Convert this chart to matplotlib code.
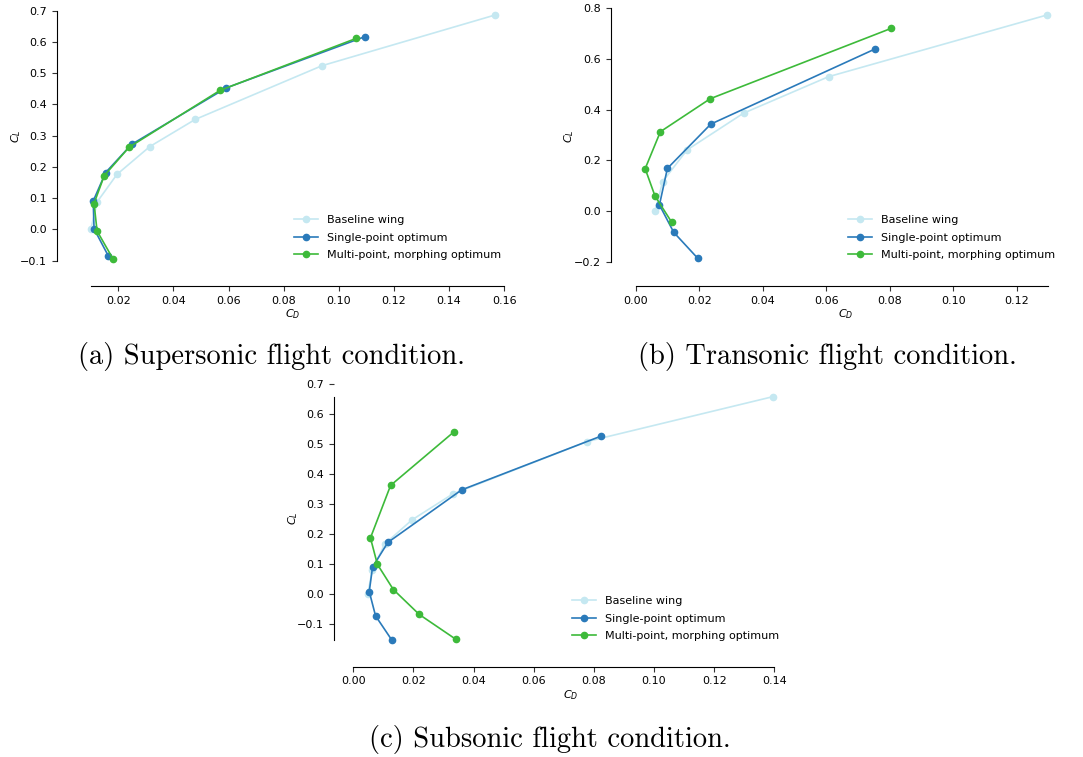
import matplotlib
matplotlib.use("Agg")
import matplotlib.pyplot as plt

# drag / lift polars
sup_base_cd = [0.0100, 0.0124, 0.0195, 0.0314, 0.0479, 0.0939, 0.1566]
sup_base_cl = [0.000, 0.089, 0.176, 0.265, 0.352, 0.524, 0.686]
sup_single_cd = [0.0164, 0.0112, 0.0109, 0.0154, 0.0248, 0.0592, 0.1095]
sup_single_cl = [-0.085, 0.002, 0.091, 0.182, 0.272, 0.453, 0.617]
sup_multi_cd = [0.0180, 0.0123, 0.0112, 0.0149, 0.0239, 0.0569, 0.1062]
sup_multi_cl = [-0.093, -0.005, 0.083, 0.172, 0.263, 0.445, 0.611]

tra_base_cd = [0.0061, 0.0084, 0.0161, 0.0339, 0.0607, 0.1297]
tra_base_cl = [0.001, 0.116, 0.241, 0.386, 0.530, 0.774]
tra_single_cd = [0.0195, 0.0119, 0.0074, 0.0099, 0.0236, 0.0753]
tra_single_cl = [-0.187, -0.084, 0.024, 0.168, 0.343, 0.639]
tra_multi_cd = [0.0113, 0.0060, 0.0029, 0.0077, 0.0234, 0.0805]
tra_multi_cl = [-0.045, 0.059, 0.167, 0.313, 0.443, 0.721]

sub_base_cd = [0.0048, 0.0063, 0.0105, 0.0195, 0.0330, 0.0777, 0.1396]
sub_base_cl = [0.001, 0.081, 0.168, 0.248, 0.334, 0.509, 0.659]
sub_single_cd = [0.0127, 0.0074, 0.0053, 0.0064, 0.0115, 0.0360, 0.0823]
sub_single_cl = [-0.151, -0.072, 0.009, 0.091, 0.173, 0.348, 0.527]
sub_multi_cd = [0.0341, 0.0219, 0.0133, 0.0080, 0.0057, 0.0124, 0.0334]
sub_multi_cl = [-0.150, -0.067, 0.016, 0.100, 0.188, 0.363, 0.541]

labels = ["Baseline wing", "Single-point optimum", "Multi-point, morphing optimum"]
captions = ["(a) Supersonic flight condition.", "(b) Transonic flight condition.",
            "(c) Subsonic flight condition."]

c_base = '#c5e8f1'
c_single = '#2a7aba'
c_multi = '#3dba3a'

W, H = 1083, 757
fig = plt.figure(figsize=(W / 100, H / 100), dpi=100)
fig.patch.set_facecolor('white')


def px_axes(l, t, r, b):
    return fig.add_axes([l / W, 1 - b / H, (r - l) / W, (b - t) / H])


def polar(ax, data, xlim, ylim, xticks, yticks, xb, yb, off, leg_xy):
    (bx, by), (sx, sy), (mx, my) = data
    ax.plot(bx, by, '-o', color=c_base, lw=1.2, ms=4.5, label=labels[0])
    ax.plot(sx, sy, '-o', color=c_single, lw=1.2, ms=4.5, label=labels[1])
    ax.plot(mx, my, '-o', color=c_multi, lw=1.2, ms=4.5, label=labels[2])
    ax.set_xlim(*xlim)
    ax.set_ylim(*ylim)
    ax.set_xticks(xticks)
    ax.set_yticks(yticks)
    ax.tick_params(labelsize=8, length=3.5, color='#333333')
    for s in ['top', 'right']:
        ax.spines[s].set_visible(False)
    ax.spines['left'].set_position(('outward', off[0] * 0.72))
    ax.spines['bottom'].set_position(('outward', off[1] * 0.72))
    ax.spines['left'].set_bounds(*yb)
    ax.spines['bottom'].set_bounds(*xb)
    ax.set_xlabel('$C_D$', fontsize=8, labelpad=1)
    ax.set_ylabel('$C_L$', fontsize=8, labelpad=-2)
    ax.set_facecolor('none')
    ax.legend(loc='upper left', bbox_to_anchor=(leg_xy[0] / W, 1 - leg_xy[1] / H),
              bbox_transform=fig.transFigure, frameon=False, fontsize=8,
              borderpad=0, borderaxespad=0, handlelength=2.2, handletextpad=0.8,
              labelspacing=0.68)


ax_a = px_axes(70, 3, 515, 270)
polar(ax_a, [(sup_base_cd, sup_base_cl), (sup_single_cd, sup_single_cl), (sup_multi_cd, sup_multi_cl)],
      (0.00248, 0.1639), (-0.1298, 0.7246),
      [0.02, 0.04, 0.06, 0.08, 0.10, 0.12, 0.14, 0.16],
      [-0.1, 0.0, 0.1, 0.2, 0.3, 0.4, 0.5, 0.6, 0.7],
      (0.01, 0.16), (-0.1, 0.7), (13, 16), (294, 215))

ax_b = px_axes(625.5, 3.2, 1066.8, 270)
polar(ax_b, [(tra_base_cd, tra_base_cl), (tra_single_cd, tra_single_cl), (tra_multi_cd, tra_multi_cl)],
      (-0.0033, 0.1358), (-0.2328, 0.820),
      [0.00, 0.02, 0.04, 0.06, 0.08, 0.10, 0.12],
      [-0.2, 0.0, 0.2, 0.4, 0.6, 0.8],
      (0.0, 0.13), (-0.2, 0.8), (15, 16), (848, 215))

ax_c = px_axes(348.2, 384.3, 793, 651.3)
polar(ax_c, [(sub_base_cd, sub_base_cl), (sub_single_cd, sub_single_cl), (sub_multi_cd, sub_multi_cl)],
      (-0.0017, 0.1462), (-0.19, 0.70),
      [0.00, 0.02, 0.04, 0.06, 0.08, 0.10, 0.12, 0.14],
      [-0.1, 0.0, 0.1, 0.2, 0.3, 0.4, 0.5, 0.6, 0.7],
      (0.0, 0.14), (-0.151, 0.659), (14.5, 15.4), (572, 596))

# sub-figure captions
for x, y, txt in [(271, 357, captions[0]), (827, 357, captions[1]), (550, 740, captions[2])]:
    fig.text(x / W, 1 - y / H, txt, family='cmr10', fontsize=20.5, ha='center', va='center')

fig.savefig('out.png', dpi=100)
